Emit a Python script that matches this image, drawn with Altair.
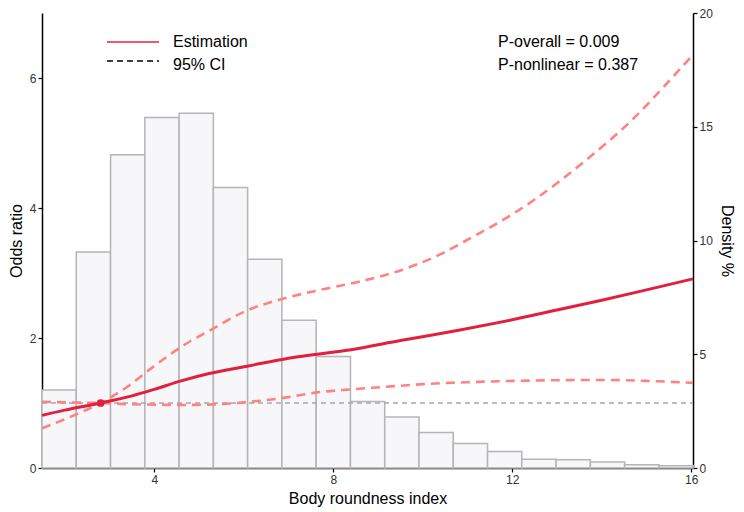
import altair as alt
import pandas as pd

# ---- histogram (Density %) ----
bin_start = [1.49, 2.256, 3.022, 3.788, 4.554, 5.320, 6.086, 6.852, 7.618, 8.384,
             9.150, 9.916, 10.682, 11.448, 12.214, 12.980, 13.746, 14.512, 15.278]
bin_end = [2.256, 3.022, 3.788, 4.554, 5.320, 6.086, 6.852, 7.618, 8.384, 9.150,
           9.916, 10.682, 11.448, 12.214, 12.980, 13.746, 14.512, 15.278, 16.044]
density = [3.43, 9.50, 13.77, 15.41, 15.59, 12.33, 9.18, 6.50, 4.90, 2.92,
           2.24, 1.56, 1.08, 0.72, 0.39, 0.36, 0.26, 0.14, 0.10]

# ---- estimation curve (Odds ratio) ----
est_x = [1.49, 2.0, 2.8, 3.5, 4.0, 4.6, 5.2, 6.1, 7.0, 8.4, 9.5, 10.8, 12.0, 13.0, 14.0, 15.0, 16.04]
est_y = [0.81, 0.89, 1.00, 1.11, 1.21, 1.34, 1.45, 1.57, 1.69, 1.82, 1.96, 2.12, 2.28, 2.43, 2.58, 2.74, 2.91]

# ---- 95% CI bounds ----
ci_a_x = [1.49, 2.1, 2.8, 3.4, 4.0, 4.8, 5.2, 6.06, 6.8, 7.7, 8.6, 9.5, 10.4, 11.1, 11.9, 12.5, 13.6, 14.7, 15.5, 16.04]
ci_a_y = [0.61, 0.78, 1.00, 1.25, 1.57, 1.95, 2.10, 2.42, 2.59, 2.74, 2.87, 3.04, 3.29, 3.55, 3.86, 4.13, 4.71, 5.37, 5.95, 6.36]
ci_b_x = [1.49, 2.0, 2.8, 3.5, 4.0, 4.7, 5.4, 6.0, 6.3, 7.0, 7.6, 8.4, 9.1, 10.0, 11.0, 12.0, 13.0, 14.0, 15.0, 16.04]
ci_b_y = [1.02, 1.01, 1.00, 0.98, 0.975, 0.97, 0.98, 1.01, 1.03, 1.09, 1.16, 1.21, 1.245, 1.29, 1.32, 1.34, 1.35, 1.355, 1.34, 1.31]

# ---- reference ----
ref_x = [1.49, 16.04]
ref_y = [1.0, 1.0]
ref_point_x = [2.8]
ref_point_y = [1.0]

x_ticks = [4, 8, 12, 16]
left_ticks = [0, 2, 4, 6]
right_ticks = [0, 5, 10, 15, 20]

RED = "#E0203E"
PINK = "#FF8282"

hist_df = pd.DataFrame({"x0": bin_start, "x1": bin_end, "d": density})
est_df = pd.DataFrame({"x": est_x, "or": est_y})
ci_df = pd.concat([
    pd.DataFrame({"x": ci_a_x, "or": ci_a_y, "b": "a"}),
    pd.DataFrame({"x": ci_b_x, "or": ci_b_y, "b": "b"}),
])
ref_df = pd.DataFrame({"x": ref_x, "or": ref_y})
pt_df = pd.DataFrame({"x": ref_point_x, "or": ref_point_y})

xscale = alt.Scale(domain=[1.49, 16.04], nice=False, zero=False)
xaxis = alt.Axis(values=x_ticks, title="Body roundness index", titlePadding=5)

left_scale = alt.Scale(domain=[0, 7], nice=False)
left_axis = alt.Axis(orient="left", values=left_ticks, title="Odds ratio", titlePadding=5)


def ly(field):
    return alt.Y(field, type="quantitative", scale=left_scale, axis=left_axis)


def lx(field):
    return alt.X(field, type="quantitative", scale=xscale, axis=xaxis)


bars = alt.Chart(hist_df).mark_rect(
    fill="#F7F6F8", stroke="#B5B5B5", strokeWidth=1.5
).encode(
    x=lx("x0"),
    x2="x1",
    y=alt.Y("d:Q", scale=alt.Scale(domain=[0, 20], nice=False),
            axis=alt.Axis(orient="right", values=right_ticks, title="Density %", titlePadding=6)),
    y2=alt.datum(0),
)

ref = alt.Chart(ref_df).mark_line(
    color="#A8A8A8", strokeDash=[5, 4], strokeWidth=1.3
).encode(x=lx("x"), y=ly("or"))

ci = alt.Chart(ci_df).mark_line(
    color=PINK, strokeDash=[9, 6], strokeWidth=2.6, interpolate="monotone"
).encode(x=lx("x"), y=ly("or"), detail="b:N")

est = alt.Chart(est_df).mark_line(
    color=RED, strokeWidth=3, interpolate="monotone"
).encode(x=lx("x"), y=ly("or"))

pt = alt.Chart(pt_df).mark_point(
    filled=True, color=RED, size=60, opacity=1
).encode(x=lx("x"), y=ly("or"))

one = alt.Data(values=[{}])
leg_est = alt.Chart(one).mark_rule(color=RED, strokeWidth=1.5).encode(
    x=alt.value(65), x2=alt.value(117), y=alt.value(29))
leg_ci = alt.Chart(one).mark_rule(color="black", strokeWidth=1.5, strokeDash=[6, 4]).encode(
    x=alt.value(65), x2=alt.value(117), y=alt.value(48))
txt_style = dict(font="Liberation Sans", fontSize=16, color="black", align="left", baseline="middle")
leg_t1 = alt.Chart(one).mark_text(text="Estimation", **txt_style).encode(
    x=alt.value(131), y=alt.value(29))
leg_t2 = alt.Chart(one).mark_text(text="95% CI", **txt_style).encode(
    x=alt.value(131), y=alt.value(52))
p1 = alt.Chart(one).mark_text(text="P-overall = 0.009", **txt_style).encode(
    x=alt.value(456), y=alt.value(29))
p2 = alt.Chart(one).mark_text(text="P-nonlinear = 0.387", **txt_style).encode(
    x=alt.value(456), y=alt.value(52))

lines = alt.layer(ref, ci, est, pt, leg_est, leg_ci, leg_t1, leg_t2, p1, p2)

chart = alt.layer(bars, lines).resolve_scale(y="independent").properties(
    width=651, height=455,
    autosize=alt.AutoSizeParams(type="none"),
    padding={"left": 34, "top": 5, "right": 43, "bottom": 40},
).configure_view(stroke=None).configure_axis(
    domainColor="black", domainWidth=1.5, tickColor="black", tickWidth=1.2, tickSize=4,
    labelColor="#333333", labelFontSize=12, labelFont="Liberation Sans", labelPadding=2,
    titleFont="Liberation Sans", titleFontSize=16, titleFontWeight="normal", titleColor="black",
    grid=False,
)

chart.save("out.html", embed_options={"renderer": "svg", "actions": False})
